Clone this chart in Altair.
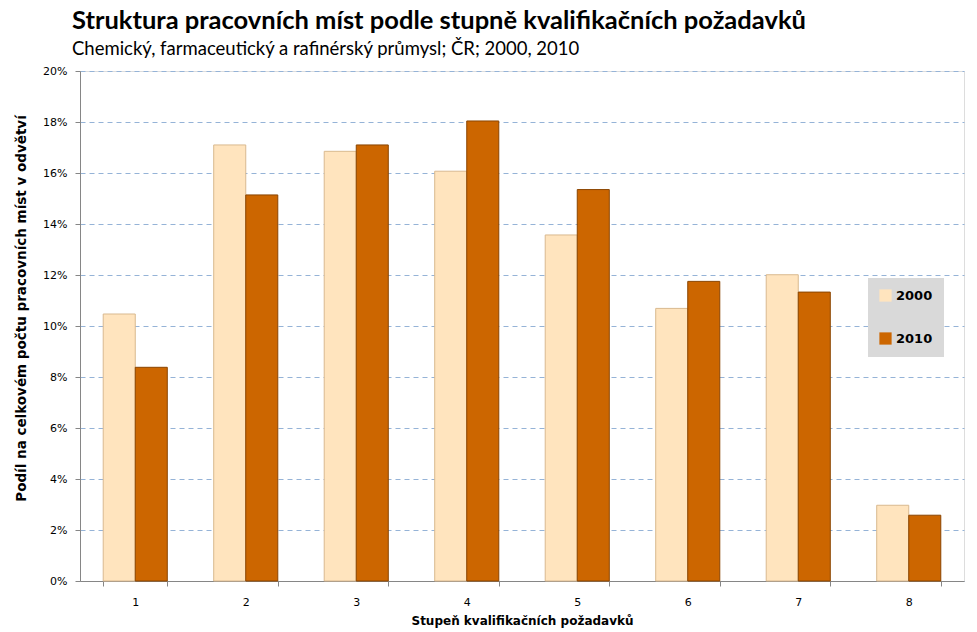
import altair as alt
import pandas as pd

categories = ["1", "2", "3", "4", "5", "6", "7", "8"]
values_2000 = [10.47, 17.1, 16.85, 16.07, 13.57, 10.69, 12.01, 2.97]
values_2010 = [8.38, 15.14, 17.1, 18.04, 15.35, 11.75, 11.33, 2.58]
years = ["2000", "2010"]
colors = ["#FFE4BE", "#CC6600"]
strokes = ["#D9B98F", "#8A4500"]

rows = []
for c, a, b in zip(categories, values_2000, values_2010):
    rows.append({"cat": c, "year": years[0], "val": a / 100})
    rows.append({"cat": c, "year": years[1], "val": b / 100})
df = pd.DataFrame(rows)

font = "DejaVu Sans"

chart = alt.Chart(df).mark_bar(strokeWidth=1).encode(
    x=alt.X("cat:N", sort=categories,
            scale=alt.Scale(paddingInner=0.42, paddingOuter=0.21),
            axis=alt.Axis(title="Stupeň kvalifikačních požadavků", labelAngle=0,
                          tickBand="extent", tickSize=5, labelPadding=10,
                          labelFont=font, labelFontSize=11, labelColor="#000",
                          titleFont=font, titleFontSize=12, titleFontWeight="bold",
                          titleColor="#000", titlePadding=8,
                          domainColor="#868686", tickColor="#868686")),
    xOffset=alt.XOffset("year:N", sort=years),
    y=alt.Y("val:Q", scale=alt.Scale(domain=[0, 0.2]),
            axis=alt.Axis(title="Podíl na celkovém počtu pracovních míst v odvětví",
                          format=".0%", values=[i / 100 for i in range(0, 21, 2)],
                          tickSize=5, labelPadding=8,
                          labelFont=font, labelFontSize=11, labelColor="#000",
                          titleFont=font, titleFontSize=13.5, titleFontWeight="bold",
                          titleColor="#000", titleX=-52, titleY=237,
                          domainColor="#868686", tickColor="#868686",
                          grid=True, gridColor="#95B3D7", gridDash=[5, 4],
                          gridWidth=1)),
    fill=alt.Fill("year:N", sort=years, scale=alt.Scale(domain=years, range=colors),
                  legend=alt.Legend(title=None, orient="none", legendX=788, legendY=207,
                                    fillColor="#D9D9D9", padding=11, rowPadding=29,
                                    symbolType="square", symbolSize=150,
                                    symbolStrokeWidth=0,
                                    labelFont=font, labelFontSize=13,
                                    labelFontWeight="bold", labelColor="#000")),
    stroke=alt.Stroke("year:N", sort=years, scale=alt.Scale(domain=years, range=strokes),
                      legend=None),
).properties(
    width=884,
    height=510,
    autosize=alt.AutoSizeParams(type="none"),
    padding={"left": 80, "top": 71, "right": 13, "bottom": 51},
    title=alt.Title(
        "Struktura pracovních míst podle stupně kvalifikačních požadavků",
        subtitle="Chemický, farmaceutický a rafinérský průmysl; ČR; 2000, 2010",
        anchor="start", frame="group", dx=-8, offset=7,
        font="Lato", fontSize=25.5, fontWeight="bold", color="#000",
        subtitleFont="Lato", subtitleFontSize=18.5, subtitleColor="#000",
        subtitlePadding=5,
    ),
).configure_view(stroke=None).configure(background="white")

chart.save("out.html", embed_options={"renderer": "svg", "actions": False})
